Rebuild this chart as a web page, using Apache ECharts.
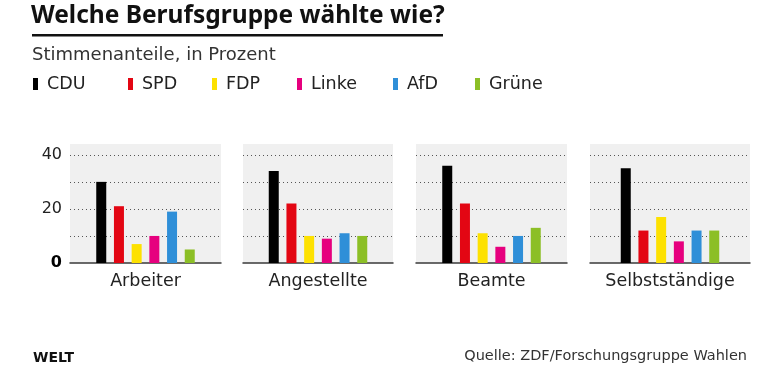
<!DOCTYPE html>
<html>
<head>
<meta charset="utf-8">
<script src="https://cdn.jsdelivr.net/npm/echarts@6/dist/echarts.min.js"></script>
<style>
html,body{margin:0;padding:0;background:#fff;}
#chart{width:780px;height:373px;}
</style>
</head>
<body>
<div id="chart"></div>
<script>
// ---- data ----
var groups = ['Arbeiter', 'Angestellte', 'Beamte', 'Selbstständige'];
var parties = ['CDU', 'SPD', 'FDP', 'Linke', 'AfD', 'Grüne'];
var cdu    = [30, 34, 36, 35];
var spd    = [21, 22, 22, 12];
var fdp    = [7, 10, 11, 17];
var linke  = [10, 9, 6, 8];
var afd    = [19, 11, 10, 12];
var gruene = [5, 10, 13, 12];
var yTickLabels = [0, 20, 40];

var values = [cdu, spd, fdp, linke, afd, gruene];
var colors = ['#000000', '#e30613', '#fde100', '#e6007e', '#2f8fd8', '#8cbf26'];

var FONT = '"DejaVu Sans", sans-serif';
var TFONT = '"Noto Sans", sans-serif';
var chart = echarts.init(document.getElementById('chart'), null, {renderer: 'canvas'});

var gridPos = [
  {left: 70, width: 151},
  {left: 243, width: 150},
  {left: 416, width: 151},
  {left: 590, width: 160}
];
var legendLeft = [33, 128, 212, 297, 393, 475];

var grids = [], xAxes = [], yAxes = [], series = [];
groups.forEach(function (g, i) {
  grids.push({
    left: gridPos[i].left, width: gridPos[i].width, top: 144, height: 119,
    show: true, backgroundColor: '#f0f0f0', borderWidth: 0
  });
  xAxes.push({
    type: 'category', gridIndex: i, data: [g],
    axisTick: {show: false},
    axisLine: {show: true, lineStyle: {color: '#3a3a3a', width: 1.5}},
    axisLabel: {fontFamily: FONT, fontSize: 17.5, color: '#222', margin: 9}
  });
  yAxes.push({
    type: 'value', gridIndex: i, min: 0, max: 44, interval: 10,
    axisLine: {show: false}, axisTick: {show: false},
    splitLine: {show: true, showMinLine: false, showMaxLine: false,
      lineStyle: {color: '#555', width: 1, type: [1, 3]}},
    axisLabel: {
      show: i === 0, margin: 8, fontFamily: FONT, fontSize: 16, color: '#222',
      formatter: function (v) {
        if (v === 0) return '{b|0}';
        return yTickLabels.indexOf(v) >= 0 ? String(v) : '';
      },
      rich: {b: {fontWeight: 'bold', fontFamily: FONT, fontSize: 16, color: '#000'}}
    }
  });
  parties.forEach(function (p, k) {
    series.push({
      type: 'bar', name: p, xAxisIndex: i, yAxisIndex: i,
      data: [values[k][i]], barWidth: 10, barGap: '77%',
      itemStyle: {color: colors[k]}, silent: true, animation: false
    });
  });
});

var legends = parties.map(function (p, k) {
  return {
    data: [p], left: legendLeft[k], top: 75, padding: 0,
    itemWidth: 5, itemHeight: 12, icon: 'rect', selectedMode: false,
    textStyle: {fontFamily: FONT, fontSize: 17.5, color: '#222', padding: [0, 0, 0, 4]}
  };
});

chart.setOption({
  animation: false,
  title: [
    {text: 'Welche Berufsgruppe wählte wie?', left: 31, top: 4, padding: 0,
      textStyle: {fontFamily: TFONT, fontSize: 24.5, fontWeight: 'bold', color: '#111'}},
    {text: 'Stimmenanteile, in Prozent', left: 32, top: 46, padding: 0,
      textStyle: {fontFamily: FONT, fontSize: 18, fontWeight: 'normal', color: '#333'}},
    {text: 'WELT', left: 33, top: 351, padding: 0,
      textStyle: {fontFamily: FONT, fontSize: 14, fontWeight: 'bold', color: '#111'}},
    {text: 'Quelle: ZDF/Forschungsgruppe Wahlen', right: 33, top: 349, padding: 0,
      textStyle: {fontFamily: FONT, fontSize: 14.5, fontWeight: 'normal', color: '#333'}}
  ],
  graphic: [
    {type: 'rect', shape: {x: 32, y: 34, width: 411, height: 2.5}, style: {fill: '#111'}}
  ],
  legend: legends,
  grid: grids, xAxis: xAxes, yAxis: yAxes, series: series
});
</script>
</body>
</html>
